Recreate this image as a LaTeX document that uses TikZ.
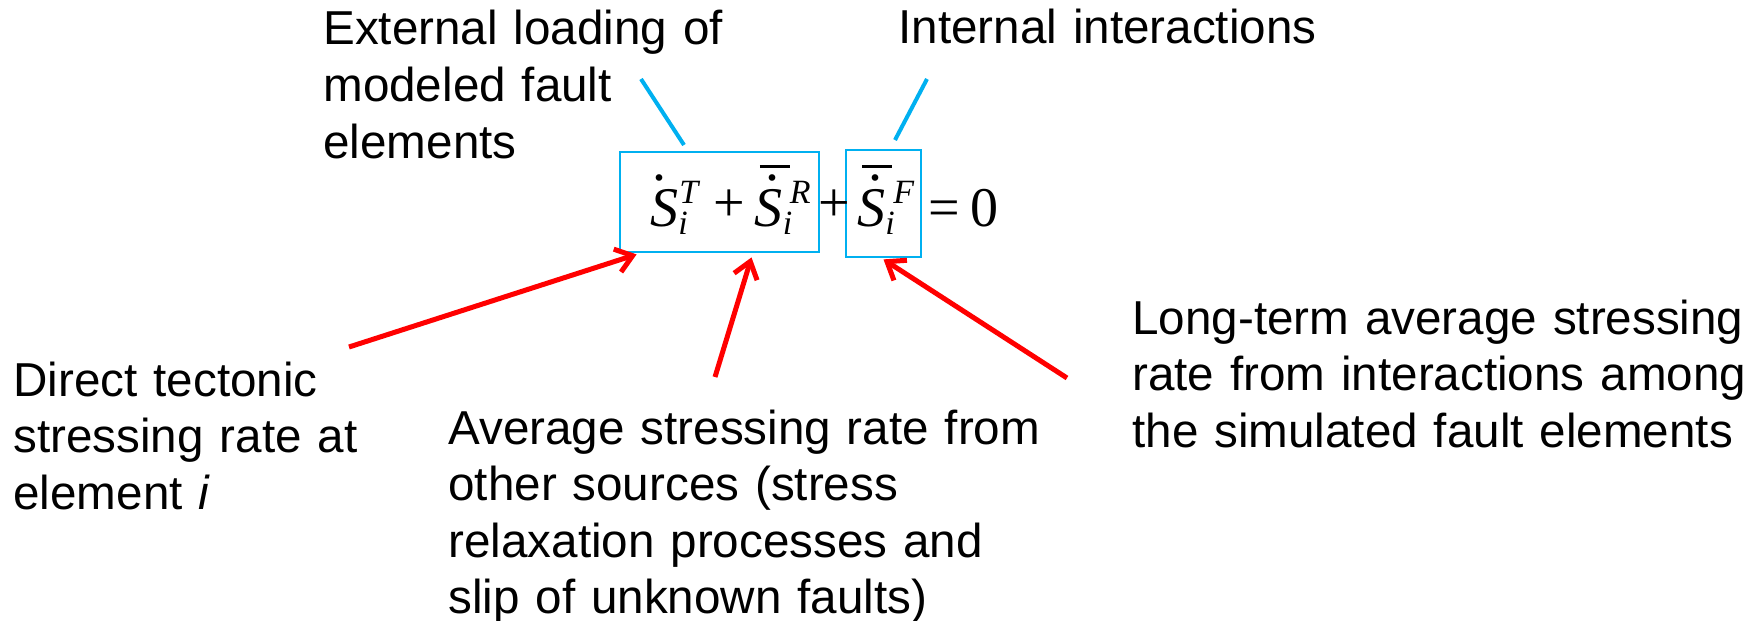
\documentclass[tikz,border=0pt]{standalone}
\usepackage{fontspec}
\setmainfont{Liberation Sans}
\newfontfamily\eqfont{Liberation Serif}
% equation pieces (set by hand in Times-like type)
\newcommand\eqplus{\raisebox{2.2pt}{\upshape +}}
\newcommand\dotS[1]{\rlap{\hspace{#1}\raisebox{22.6pt}{\upshape .}}S}
\newcommand\barS{\rlap{\hspace{2.5pt}\rule[29pt]{15pt}{1.5pt}}\dotS{5.5pt}}
\newcommand\eqidx[3]{\rlap{\hspace{#1}\raisebox{-4pt}{\fontsize{17}{17}\selectfont i}}%
    \hspace{#2}\raisebox{11.5pt}{\fontsize{17}{17}\selectfont #3}}
\usetikzlibrary{positioning,arrows.meta,calc}
\definecolor{leadblue}{RGB}{0,176,240}

\begin{document}
\begin{tikzpicture}[
    x=0.5pt, y=-0.5pt,
    font=\fontsize{23.8}{28.3}\selectfont,
    txt/.style={anchor=base west, inner sep=0pt, align=left, text width=#1},
    eqtxt/.style={anchor=base west, inner sep=0pt, font=\eqfont\fontsize{28}{30}\selectfont\itshape},
    eqbox/.style={draw=leadblue, line width=1.4pt, inner sep=0pt},
    lead/.style={draw=leadblue, line width=2pt},
    flow/.style={draw=red, line width=2.5pt, -{Straight Barb[length=8pt,width=12pt]}},
]
\useasboundingbox (0,0) rectangle (1758,621);

% equation
\node[eqbox, minimum width=99.5pt, minimum height=50pt] (loadbox) at (719.5,202) {};
\node[eqbox, minimum width=37.5pt, minimum height=53.5pt] (intbox) at (883.5,203.5) {};
\node[eqtxt] (loadeq) at (650,226)
    {\dotS{0.8pt}\eqidx{0pt}{0.5pt}{T}\hspace{7.5pt}\eqplus\hspace{5pt}\barS\eqidx{0pt}{3.5pt}{R}};
\node[eqtxt] (plus) at (818,226) {\eqplus};
\node[eqtxt] (inteq) at (857,226) {\barS\eqidx{0pt}{4pt}{F}};
\node[eqtxt] (zero) at (928.5,226) {\upshape =\hspace{5pt}0};

% labels
\node[txt=300pt] (extload) at (323,45) {External loading of\\modeled fault\\elements};
\node[txt=300pt] (intact) at (898,43) {Internal interactions};
\node[txt=300pt] (direct) at (13,396) {Direct tectonic\\stressing rate at\\element \textit{i}};
\node[txt=400pt] (avg) at (448,444) {Average stressing rate from\\other sources (stress\\relaxation processes and\\slip of unknown faults)};
\node[txt=400pt] (longterm) at (1132,334) {Long-term average stressing\\rate from interactions among\\the simulated fault elements};

% leaders
\coordinate (ext-top) at (641,79);
\coordinate (ext-end) at (684,145);
\coordinate (int-top) at (927,79);
\coordinate (int-end) at (895,140);
\draw[lead] (ext-top) -- (ext-end);
\draw[lead] (int-top) -- (int-end);

% arrows
\coordinate (direct-tail) at (349,347);
\coordinate (avg-tail) at (715,377);
\coordinate (long-tail) at (1067,378);
\draw[flow] (direct-tail) -- ($(loadbox.south west)+(18,1)$);
\draw[flow] (avg-tail) -- ($(loadbox.south)+(32,4)$);
\draw[flow] (long-tail) -- ($(intbox.south)+(0,1)$);
\end{tikzpicture}
\end{document}
